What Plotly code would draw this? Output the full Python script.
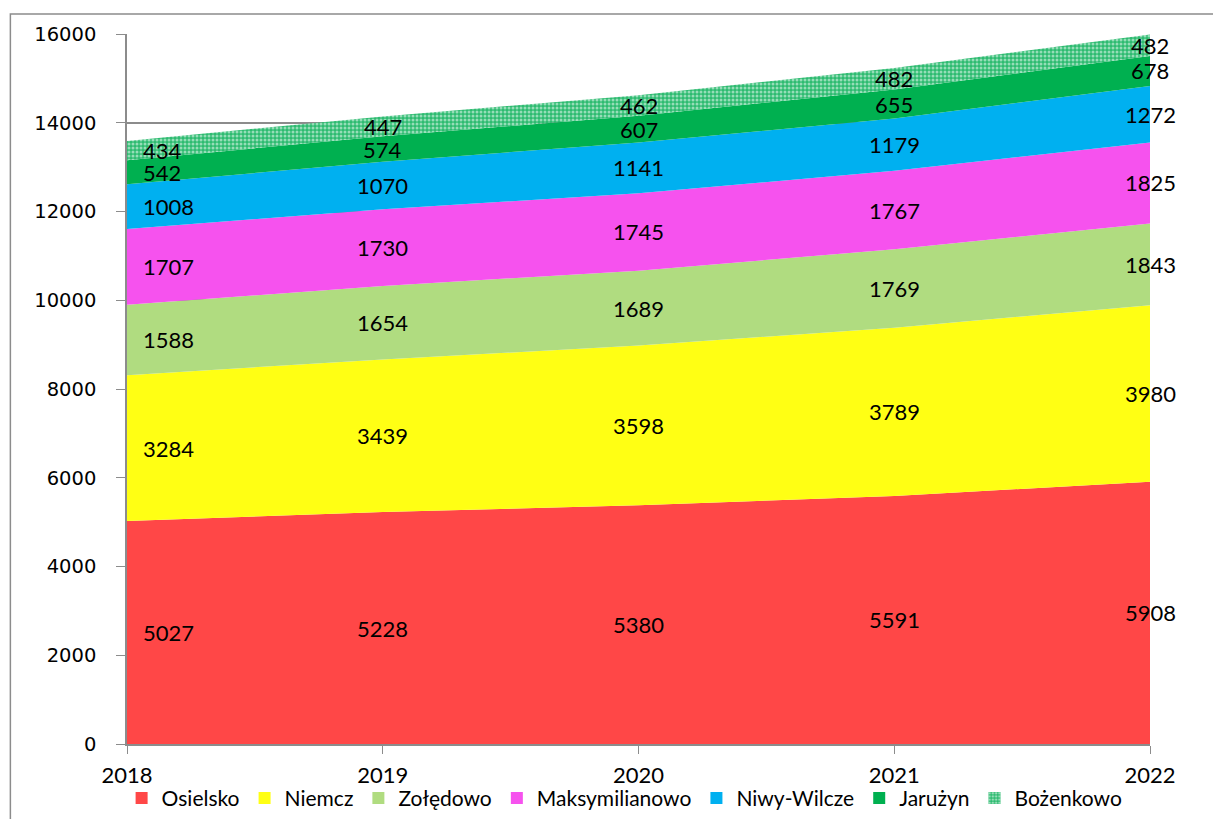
import plotly.graph_objects as go

years = [2018, 2019, 2020, 2021, 2022]
series_names = ["Osielsko", "Niemcz", "Zołędowo", "Maksymilianowo", "Niwy-Wilcze", "Jarużyn", "Bożenkowo"]
osielsko = [5027, 5228, 5380, 5591, 5908]
niemcz = [3284, 3439, 3598, 3789, 3980]
zoledowo = [1588, 1654, 1689, 1769, 1843]
maksymilianowo = [1707, 1730, 1745, 1767, 1825]
niwy_wilcze = [1008, 1070, 1141, 1179, 1272]
jaruzyn = [542, 574, 607, 655, 678]
bozenkowo = [434, 447, 462, 482, 482]

colors = ["#FF4747", "#FFFF14", "#B0DC80", "#F652EE", "#00B0F0", "#00B050", "#00B050"]
all_values = [osielsko, niemcz, zoledowo, maksymilianowo, niwy_wilcze, jaruzyn, bozenkowo]
pattern = dict(shape=".", fgcolor="#FFFFFF", bgcolor="#2DBB70", size=4, solidity=0.45)

fig = go.Figure()
annotations = []
base = [0] * len(years)
for i, (name, vals) in enumerate(zip(series_names, all_values)):
    tr = dict(x=years, y=vals, name=name, mode="none", stackgroup="one",
              fillcolor=colors[i], showlegend=False)
    if name == "Bożenkowo":
        tr["fillcolor"] = "#2DBB70"
        tr["fillpattern"] = pattern
    fig.add_trace(go.Scatter(**tr))
    for j, y in enumerate(years):
        mid = base[j] + vals[j] / 2
        a = dict(x=y, y=mid, text=str(vals[j]), showarrow=False,
                 font=dict(family="Lato", size=22, color="black"))
        if j == 0:
            a["xanchor"] = "left"
            a["xshift"] = 14
        annotations.append(a)
    base = [b + v for b, v in zip(base, vals)]

# legend entries as squares
for i, name in enumerate(series_names):
    mk = dict(color=colors[i], line=dict(width=0))
    if name == "Bożenkowo":
        mk = dict(color="#2DBB70", pattern=pattern, line=dict(width=0))
    fig.add_trace(go.Bar(x=[None], y=[None], name=name, marker=mk))

fig.update_layout(
    width=1221, height=819,
    margin=dict(l=119, r=79, t=26, b=83),
    paper_bgcolor="white", plot_bgcolor="white",
    annotations=annotations,
    showlegend=True,
    legend=dict(orientation="h", x=0.505, xanchor="center", xref="container",
                y=0.035, yanchor="middle", yref="container",
                font=dict(family="Lato", size=21, color="black"),
                traceorder="normal", itemwidth=30, tracegroupgap=0,
                bgcolor="rgba(0,0,0,0)"),
    xaxis=dict(range=[2018, 2022], tickmode="array", tickvals=years,
               ticks="outside", ticklen=8, tickcolor="#8C8C8C",
               showline=True, linecolor="#8C8C8C", linewidth=1.5,
               showgrid=False, zeroline=False, automargin=False,
               tickfont=dict(family="Lato", size=22, color="black"),
               ticklabelstandoff=3),
    yaxis=dict(range=[0, 16000], dtick=2000, ticks="outside", ticklen=9,
               tickformat="d",
               tickcolor="#8C8C8C", showline=True, linecolor="#8C8C8C", linewidth=1.5,
               showgrid=True, gridcolor="#8C8C8C", gridwidth=1.5, zeroline=False,
               automargin=False,
               tickfont=dict(family="DejaVu Sans", size=19.5, color="black"),
               ticklabelstandoff=16),
    shapes=[dict(type="rect", xref="paper", yref="paper", x0=-0.114, x1=1.3,
                 y0=-0.3, y1=1.028, line=dict(color="#8C8C8C", width=1.5),
                 fillcolor="rgba(0,0,0,0)", layer="below")],
)

fig.write_html("out.html")
